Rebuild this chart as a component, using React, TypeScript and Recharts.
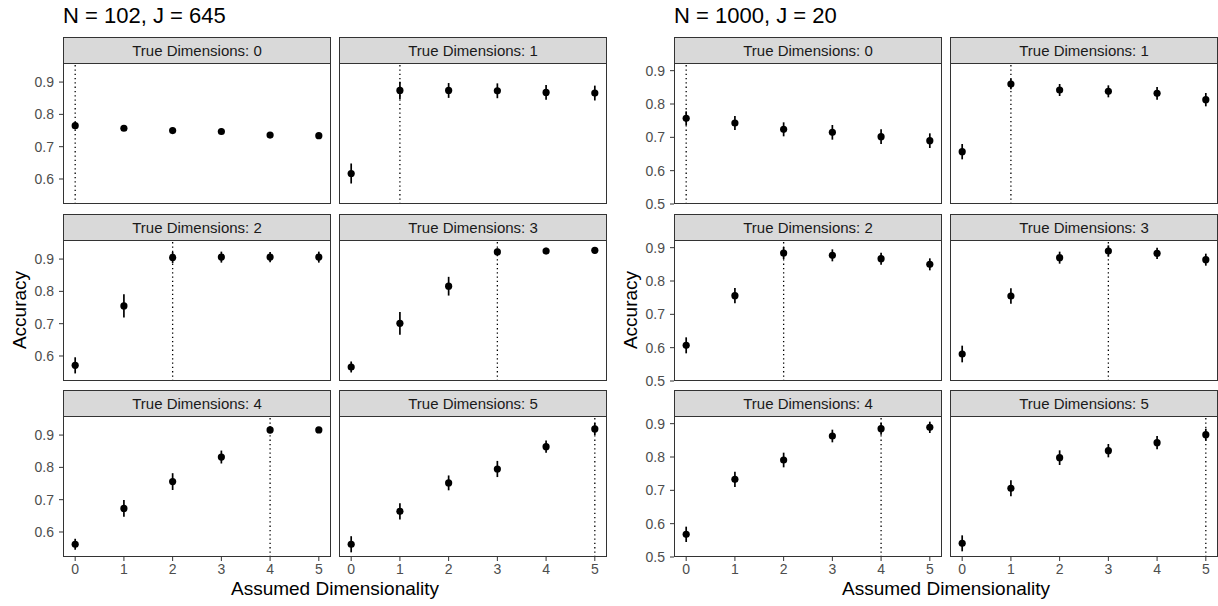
import { ScatterChart, Scatter, XAxis, YAxis, ErrorBar, ReferenceLine } from 'recharts'

// assumed dimensionality (x) for every panel
const dims = [0, 1, 2, 3, 4, 5]
const trueDims = [0, 1, 2, 3, 4, 5]

// N = 102, J = 645 : mean accuracy and half-width of the interval
const accSmall = [
  [0.765, 0.757, 0.75, 0.747, 0.736, 0.734],
  [0.617, 0.874, 0.874, 0.873, 0.868, 0.866],
  [0.571, 0.755, 0.905, 0.906, 0.906, 0.906],
  [0.566, 0.701, 0.816, 0.922, 0.925, 0.927],
  [0.562, 0.673, 0.756, 0.832, 0.916, 0.916],
  [0.562, 0.664, 0.752, 0.795, 0.864, 0.919],
]
const errSmall = [
  [0.011, 0.008, 0.009, 0.009, 0.009, 0.009],
  [0.031, 0.027, 0.023, 0.023, 0.023, 0.023],
  [0.025, 0.036, 0.017, 0.017, 0.016, 0.017],
  [0.017, 0.035, 0.029, 0.011, 0.01, 0.009],
  [0.017, 0.026, 0.026, 0.02, 0.011, 0.008],
  [0.025, 0.025, 0.023, 0.025, 0.019, 0.019],
]

// N = 1000, J = 20
const accLarge = [
  [0.757, 0.743, 0.724, 0.715, 0.702, 0.69],
  [0.657, 0.86, 0.842, 0.838, 0.832, 0.813],
  [0.607, 0.756, 0.884, 0.877, 0.867, 0.85],
  [0.581, 0.755, 0.87, 0.89, 0.883, 0.864],
  [0.568, 0.733, 0.791, 0.863, 0.885, 0.889],
  [0.541, 0.706, 0.798, 0.819, 0.843, 0.867],
]
const errLarge = [
  [0.021, 0.021, 0.021, 0.022, 0.022, 0.022],
  [0.023, 0.016, 0.018, 0.018, 0.019, 0.02],
  [0.024, 0.023, 0.018, 0.018, 0.018, 0.018],
  [0.025, 0.023, 0.018, 0.017, 0.017, 0.018],
  [0.023, 0.023, 0.022, 0.019, 0.018, 0.017],
  [0.024, 0.024, 0.022, 0.02, 0.02, 0.018],
]

const yTicksSmall = [0.6, 0.7, 0.8, 0.9]
const yTicksLarge = [0.5, 0.6, 0.7, 0.8, 0.9]

const groups = [
  { title: 'N = 102, J = 645', acc: accSmall, err: errSmall, ticks: yTicksSmall, domain: [0.5226, 0.959], left: 63 },
  { title: 'N = 1000, J = 20', acc: accLarge, err: errLarge, ticks: yTicksLarge, domain: [0.5, 0.923], left: 674 },
]

const PANEL_W = 268
const PANEL_H = 141
const STRIP_H = 26
const COL_STEP = 276
const stripTops = [37, 214, 390]
const Y_AXIS_W = 50
const X_AXIS_H = 30
// room below hidden x axes so the lowest y tick label is not clipped
const PAD_B = 9
const FONT = '"Liberation Sans", Arial, Helvetica, sans-serif'

const Dot = (props: any) => <circle cx={props.cx} cy={props.cy} r={3.6} fill="#000" />

function Panel({ g, idx }: { g: (typeof groups)[number]; idx: number }) {
  const row = Math.floor(idx / 2)
  const col = idx % 2
  const showY = col === 0
  const showX = row === 2
  const yw = showY ? Y_AXIS_W : 0
  const xh = showX ? X_AXIS_H : 0
  const padB = showX ? 0 : PAD_B
  const data = dims.map((d, i) => ({ x: d, y: g.acc[idx][i], err: g.err[idx][i] }))
  const left = g.left + col * COL_STEP - yw
  const top = stripTops[row] + STRIP_H

  return (
    <div style={{ position: 'absolute', left, top }}>
      <ScatterChart
        width={PANEL_W + yw}
        height={PANEL_H + xh + padB}
        margin={{ top: 0, right: 0, bottom: padB, left: 0 }}
      >
        <XAxis
          type="number"
          dataKey="x"
          domain={[-0.25, 5.25]}
          ticks={dims}
          interval={0}
          hide={!showX}
          height={xh}
          axisLine={false}
          tickLine={{ stroke: '#333333' }}
          tickSize={4}
          tickMargin={3}
          tick={{ fill: '#4D4D4D', fontSize: 14 }}
          allowDataOverflow
        />
        <YAxis
          type="number"
          dataKey="y"
          domain={g.domain}
          ticks={g.ticks}
          interval={0}
          hide={!showY}
          width={yw}
          axisLine={false}
          tickLine={{ stroke: '#333333' }}
          tickSize={4}
          tickMargin={5}
          tick={{ fill: '#4D4D4D', fontSize: 14 }}
          tickFormatter={(v) => Number(v).toFixed(1)}
          allowDataOverflow
        />
        <ReferenceLine
          x={trueDims[idx]}
          stroke="#000"
          strokeWidth={1.3}
          strokeDasharray="1.3 3"
        />
        <Scatter data={data} dataKey="y" shape={Dot} isAnimationActive={false}>
          <ErrorBar dataKey="err" direction="y" width={0} stroke="#000" strokeWidth={1.7} />
        </Scatter>
      </ScatterChart>
    </div>
  )
}

export default function App() {
  return (
    <div
      style={{
        position: 'absolute',
        left: 0,
        top: 0,
        width: 1218,
        height: 606,
        background: '#fff',
        fontFamily: FONT,
        overflow: 'hidden',
      }}
    >
      {groups.map((g, gi) =>
        trueDims.map((_, idx) => <Panel key={`${gi}-${idx}`} g={g} idx={idx} />),
      )}
      <svg
        width={1218}
        height={606}
        style={{ position: 'absolute', left: 0, top: 0, pointerEvents: 'none' }}
        fontFamily={FONT}
      >
        {groups.map((g, gi) => {
          const groupW = COL_STEP + PANEL_W
          const cx = g.left + groupW / 2
          const plotMid = (stripTops[0] + STRIP_H + stripTops[2] + STRIP_H + PANEL_H) / 2
          return (
            <g key={gi}>
              <text x={g.left} y={23} fontSize={22} fill="#000">
                {g.title}
              </text>
              <text
                transform={`translate(${g.left - 37},${plotMid}) rotate(-90)`}
                textAnchor="middle"
                fontSize={19}
                fill="#000"
              >
                Accuracy
              </text>
              <text x={cx} y={595} textAnchor="middle" fontSize={19} fill="#000">
                Assumed Dimensionality
              </text>
              {trueDims.map((td, idx) => {
                const row = Math.floor(idx / 2)
                const col = idx % 2
                const x = g.left + col * COL_STEP
                const y = stripTops[row]
                return (
                  <g key={idx}>
                    <rect
                      x={x + 0.5}
                      y={y + 0.5}
                      width={PANEL_W - 1}
                      height={STRIP_H}
                      fill="#D9D9D9"
                      stroke="#333333"
                      strokeWidth={1}
                    />
                    <text
                      x={x + PANEL_W / 2}
                      y={y + 18.5}
                      textAnchor="middle"
                      fontSize={15}
                      fill="#1A1A1A"
                    >
                      {`True Dimensions: ${td}`}
                    </text>
                    <rect
                      x={x + 0.5}
                      y={y + STRIP_H + 0.5}
                      width={PANEL_W - 1}
                      height={PANEL_H - 1}
                      fill="none"
                      stroke="#333333"
                      strokeWidth={1}
                    />
                  </g>
                )
              })}
            </g>
          )
        })}
      </svg>
    </div>
  )
}
